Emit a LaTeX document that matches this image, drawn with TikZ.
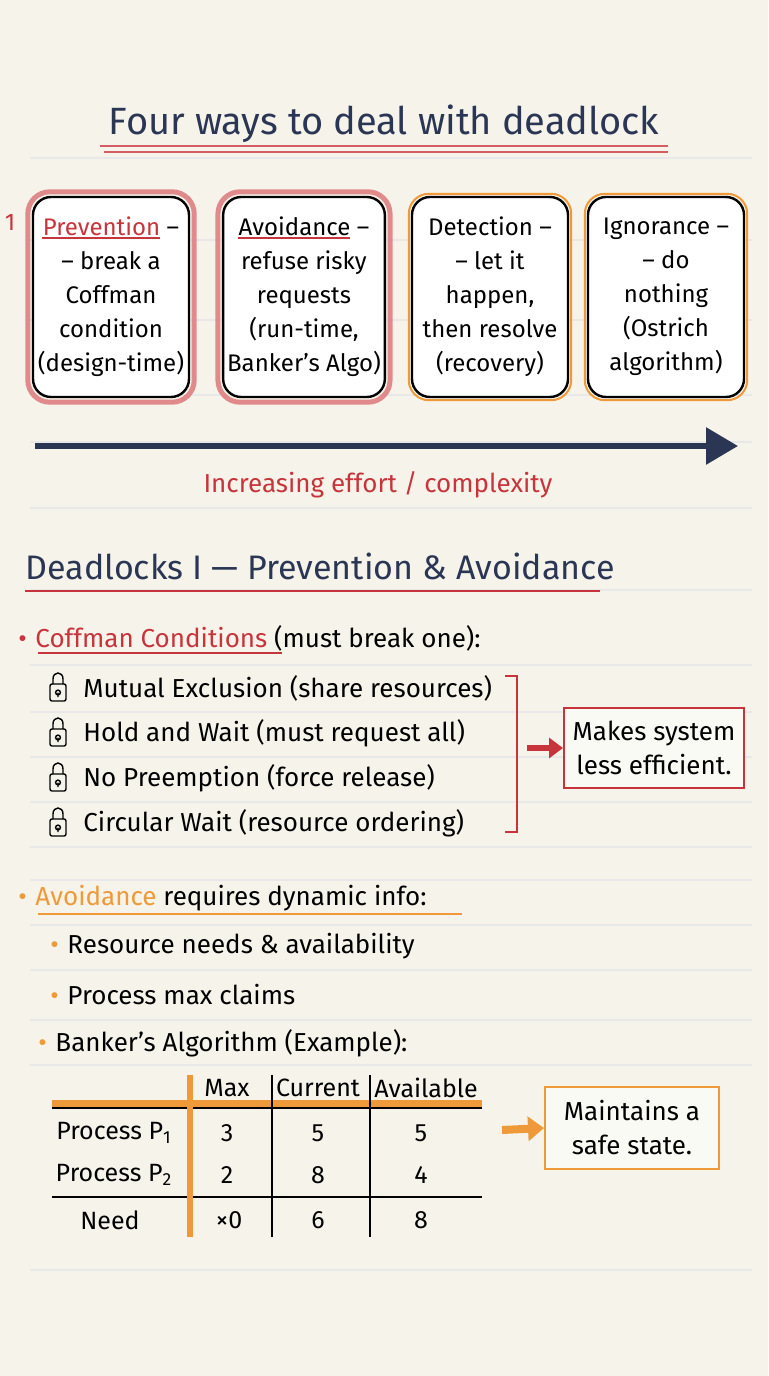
\documentclass[tikz,border=0pt]{standalone}
\usepackage{fontspec}
\setmainfont{Fira Sans}
\usetikzlibrary{arrows.meta,positioning,calc}
\definecolor{paper}{HTML}{F6F4EA}
\definecolor{navy}{HTML}{2B3655}
\definecolor{redink}{HTML}{C8343C}
\definecolor{pinkedge}{HTML}{E08A8C}
\definecolor{orangeink}{HTML}{EE9A3A}
\tikzset{
  way/.style={draw=black,line width=1.2pt,rounded corners=9pt,fill=white!60!paper,minimum width=78pt,minimum height=100pt,align=center,font=\fontsize{12}{17}\selectfont,inner sep=2pt},
  txt/.style={anchor=west,font=\fontsize{13}{15}\selectfont,inner sep=0pt},
  cell/.style={font=\fontsize{12.5}{14}\selectfont,inner sep=0pt}
}
\newcommand{\padlock}[1]{%
  \draw[line width=0.7pt,rounded corners=1pt] ($(#1)+(-8,-4)$) rectangle ($(#1)+(8,13)$);
  \draw[line width=0.7pt] ($(#1)+(-5,-4)$) -- ($(#1)+(-5,-9)$) .. controls ($(#1)+(-5,-17)$) and ($(#1)+(5,-17)$) .. ($(#1)+(5,-9)$) -- ($(#1)+(5,-4)$);
  \draw[line width=0.7pt] ($(#1)+(0,4.5)$) circle (1.2pt) -- ($(#1)+(0,9)$);}
\begin{document}
\begin{tikzpicture}[x=0.5pt,y=-0.5pt]
\fill[paper] (0,0) rectangle (768,1376);
\useasboundingbox (0,0) rectangle (768,1376);
% ruled lines
\foreach \y in {158,240,320,395,442,508,590,665,712,757,802,847,880,925,970,1020,1065,1270}
  \draw[gray!18,line width=0.6pt] (30,\y) -- (752,\y);
\node[font=\fontsize{19}{22}\selectfont,text=navy] (title) at (384,124) {Four ways to deal with deadlock};
\draw[redink!80,line width=1pt] (100,146) -- (668,146);
\draw[redink!80,line width=1pt] (104,152) -- (668,152);

% four ways
\node[way,fill=white] (prev) at (111,297) {\textcolor{redink}{Prevention} –\\– break a\\Coffman\\condition\\(design-time)};
\node[way,fill=white] (avoid) at (304,297) {Avoidance –\\refuse risky\\requests\\(run-time,\\Banker’s Algo)};
\node[way,fill=white] (detect) at (490,297) {Detection –\\– let it\\happen,\\then resolve\\(recovery)};
\node[way,fill=white] (ignore) at (666,297) {Ignorance –\\– do\\nothing\\(Ostrich\\algorithm)};
\draw[pinkedge,line width=2.5pt,rounded corners=11pt] ($(prev.south west)+(-4,4)$) rectangle ($(prev.north east)+(4,-4)$);
\draw[pinkedge,line width=2.5pt,rounded corners=11pt] ($(avoid.south west)+(-4,4)$) rectangle ($(avoid.north east)+(4,-4)$);
\draw[orangeink,line width=1pt,rounded corners=10pt] ($(detect.south west)+(-2,2)$) rectangle ($(detect.north east)+(2,-2)$);
\draw[orangeink,line width=1pt,rounded corners=10pt] ($(ignore.south west)+(-2,2)$) rectangle ($(ignore.north east)+(2,-2)$);
\node[text=redink,font=\fontsize{12}{14}\selectfont] (one) at (10,222) {1};
\draw[redink,line width=1pt] (42,238) -- (160,238);
\draw[redink,line width=1pt] (238,238) -- (350,238);

\coordinate (effa) at (35,446);
\coordinate (effb) at (738,446);
\draw[navy,line width=3pt,-{Triangle[length=16pt,width=18pt]}] (effa) -- (effb);
\node[text=redink,font=\fontsize{13}{15}\selectfont] (effort) at (378,485) {Increasing effort / complexity};

% prevention & avoidance
\node[txt,text=navy,font=\fontsize{17}{20}\selectfont] (head) at (25,566) {Deadlocks I — Prevention \& Avoidance};
\draw[redink,line width=1pt] (25,591) -- (600,591);
\node[txt] (coff) at (18,638) {\textcolor{redink}{•\,\,Coffman Conditions} (must break one):};
\draw[redink,line width=0.8pt] (38,653) -- (282,653);
\foreach \t [count=\i] in {Mutual Exclusion (share resources),Hold and Wait (must request all),No Preemption (force release),Circular Wait (resource ordering)}{
  \node[txt] (cond\i) at (83,643+45*\i) {\t};
  \coordinate (lk\i) at (58,643+45*\i);
  \padlock{lk\i}
}
\draw[redink,line width=1pt] (505,676) -- (517,676) -- (517,832) -- (505,832);
\node[draw=redink,line width=1pt,fill=white!50!paper,minimum width=90pt,minimum height=40pt,align=center,font=\fontsize{13}{17}\selectfont] (eff) at (654,748) {Makes system\\less efficient.};
\draw[redink,line width=3pt,-{Triangle[length=7pt,width=10pt]}] (527,748) -- (eff.west);

\node[txt] (avd) at (18,898) {\textcolor{orangeink}{•\,\,Avoidance} requires dynamic info:};
\draw[orangeink,line width=0.8pt] (38,914) -- (462,914);
\node[txt] (need1) at (50,946) {\textcolor{orangeink}{•}\,\,Resource needs \& availability};
\node[txt] (need2) at (50,995) {\textcolor{orangeink}{•}\,\,Process max claims};
\node[txt] (bank) at (38,1043) {\textcolor{orangeink}{•}\,\,Banker’s Algorithm (Example):};

% table
\draw[orangeink,line width=4pt] (52,1104) -- (482,1104);
\draw[line width=1pt] (52,1108) -- (482,1108);
\draw[line width=1pt] (52,1197) -- (482,1197);
\draw[orangeink,line width=3pt] (190,1075) -- (190,1237);
\draw[line width=1pt] (272,1075) -- (272,1237);
\draw[line width=1pt] (370,1075) -- (370,1237);
\node[cell] (hmax) at (227,1088) {Max};
\node[cell] (hcur) at (318,1088) {Current};
\node[cell] (havl) at (426,1088) {Available};
\node[cell] (p1) at (114,1133) {Process P\textsubscript{1}};
\node[cell] (p2) at (114,1175) {Process P\textsubscript{2}};
\node[cell] (nd) at (110,1220) {Need};
\node[cell] at (227,1133) {3}; \node[cell] at (318,1133) {5}; \node[cell] at (421,1133) {5};
\node[cell] at (227,1175) {2}; \node[cell] at (318,1175) {8}; \node[cell] at (421,1175) {4};
\node[cell] at (229,1220) {×0}; \node[cell] at (318,1220) {6}; \node[cell] at (421,1220) {8};
\node[draw=orangeink,line width=1pt,fill=white!50!paper,minimum width=87pt,minimum height=41pt,align=center,font=\fontsize{13}{17}\selectfont] (safe) at (632,1128) {Maintains a\\safe state.};
\draw[orangeink,line width=4pt,-{Triangle[length=8pt,width=12pt]}] (502,1130) -- (safe.west);
\end{tikzpicture}
\end{document}
